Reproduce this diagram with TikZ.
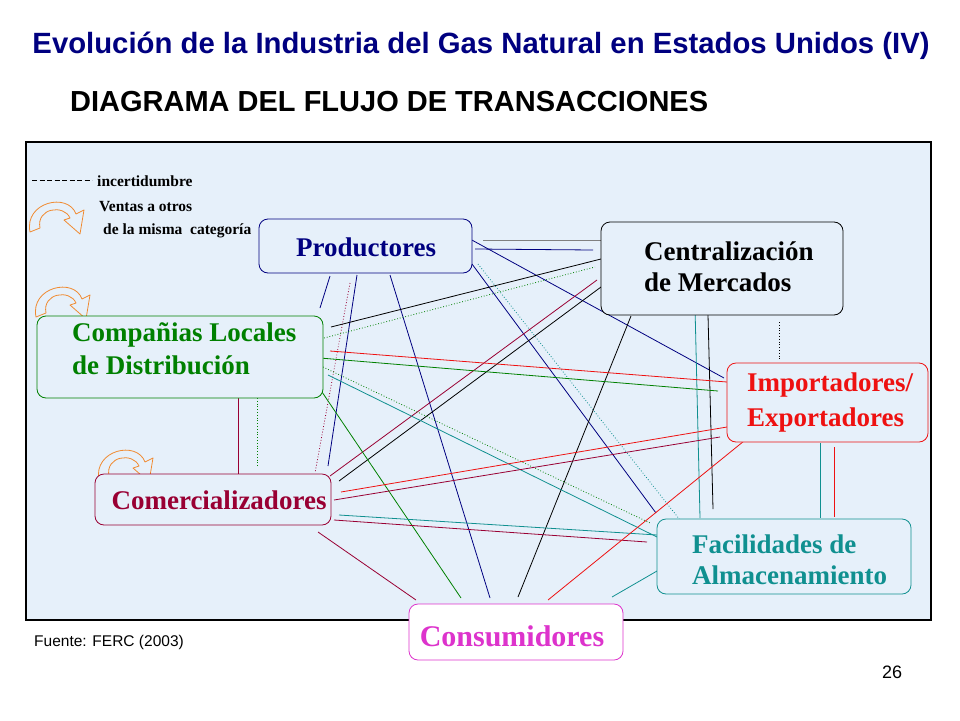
\documentclass[tikz,border=0pt]{standalone}
\usepackage{fontspec}
\setmainfont{Liberation Serif}
\newfontfamily\hsans{Liberation Sans}
\definecolor{navy}{HTML}{000080}
\definecolor{dgreen}{HTML}{008000}
\definecolor{rred}{HTML}{EE1111}
\definecolor{dred}{HTML}{990033}
\definecolor{teal2}{HTML}{109090}
\definecolor{magen}{HTML}{DD33CC}
\definecolor{bg}{HTML}{E6F0FA}
\definecolor{orng}{HTML}{F08A30}
\tikzset{box/.style={rounded corners=9pt,fill=bg,line width=0.8pt},
 lbl/.style={align=left,inner sep=0pt},
 ln/.style={line width=0.8pt},
 dln/.style={line width=0.8pt,dotted}}
\newcommand\curlarrow[2]{%
 \begin{scope}[shift={(#1,#2)}]
 \draw[orng,line width=0.8pt,fill=bg,line join=round] (2,34) .. controls (-4,4) and (40,-6) .. (48,16) -- (56,12) -- (52,36) -- (36,22) -- (42,20) .. controls (36,6) and (8,10) .. (12,30) -- cycle;
 \end{scope}}
\begin{document}
\begin{tikzpicture}[x=1pt,y=-1pt]
\useasboundingbox (0,0) rectangle (960,720);
\fill[white] (0,0) rectangle (960,720);
\node[font=\hsans\bfseries\fontsize{29.3}{32}\selectfont,text=navy] (title) at (481,46) {Evolución de la Industria del Gas Natural en Estados Unidos (IV)};
\node[font=\hsans\bfseries\fontsize{29}{32}\selectfont,anchor=west,inner sep=0pt] (sub) at (70,102) {DIAGRAMA DEL FLUJO DE TRANSACCIONES};
\draw[line width=1.6pt,fill=bg] (26,142) rectangle (931,620);
% legend
\draw[line width=0.6pt,dash pattern=on 5pt off 2.5pt] (32,180) -- (92,180);
\node[font=\bfseries\fontsize{15.5}{18}\selectfont,anchor=west,inner sep=0pt] (l1) at (97,181) {incertidumbre};
\node[font=\bfseries\fontsize{15.5}{18}\selectfont,anchor=west,inner sep=0pt] (l2) at (99,207) {Ventas a otros};
\node[font=\bfseries\fontsize{15.5}{18}\selectfont,anchor=west,inner sep=0pt] (l3) at (103,231) {de la misma\ \ categoría};
\curlarrow{28}{198}
\curlarrow{34}{283}
\curlarrow{97}{446}
% lines
\draw[ln,gray] (483,240) -- (601,240);
\draw[ln,navy] (475,249) -- (593,250);
\draw[ln,navy] (470,239) -- (724,378);
\draw[dln,teal2] (478,264) -- (680,520);
\draw[ln,navy] (472,264) -- (656,513);
\draw[ln,navy] (390,275) -- (490,598);
\draw[ln,navy] (330,276) -- (320,308);
\draw[ln,navy] (357,275) -- (328,466);
\draw[dln,dred] (350,283) -- (315,473);
\draw[ln,black] (331,327) -- (601,259);
\draw[dln,dgreen] (324,338) -- (595,267);
\draw[ln,dred] (597,280) -- (330,476);
\draw[ln,black] (601,287) -- (339,481);
\draw[ln,black] (631,316) -- (518,597);
\draw[ln,teal2] (695,307) -- (700,518);
\draw[ln,black] (708,315) -- (713,509);
\draw[dln,black,line width=0.5pt] (779,322) -- (779,360);
\draw[ln,rred] (330,351) -- (727,382);
\draw[ln,dgreen] (320,358) -- (718,391);
\draw[dln,dgreen] (323,367) -- (650,523);
\draw[ln,teal2] (328,375) -- (657,537);
\draw[ln,dgreen] (322,392) -- (461,598);
\draw[ln,dred] (238,390) -- (238,474);
\draw[dln,dgreen,line width=0.5pt] (257,398) -- (257,466);
\draw[ln,rred] (341,492) -- (727,427);
\draw[ln,dred] (334,500) -- (720,437);
\draw[ln,teal2] (339,515) -- (657,535);
\draw[ln,dred] (334,520) -- (647,542);
\draw[ln,dred] (318,532) -- (416,600);
\draw[ln,rred] (744,441) -- (548,600);
\draw[ln,teal2] (820,443) -- (820,518);
\draw[ln,rred] (834,447) -- (834,517);
\draw[ln,teal2] (657,571) -- (612,597);
% boxes
\draw[box,draw=navy] (259,219) rectangle (472,273);
\node[lbl,text=navy,font=\bfseries\fontsize{27}{30}\selectfont] (prod) at (366,247) {Productores};
\draw[box,draw=black] (601,222) rectangle (843,315);
\node[lbl,text=black,anchor=west,font=\bfseries\fontsize{27}{31}\selectfont] (cent) at (644,267) {Centralización\\de Mercados};
\draw[box,draw=dgreen] (37,316) rectangle (323,398);
\node[lbl,text=dgreen,anchor=west,font=\bfseries\fontsize{27}{33}\selectfont] (comp) at (72,349) {Compañias Locales\\de Distribución};
\draw[box,draw=rred] (727,363) rectangle (928,442);
\node[lbl,text=rred,anchor=west,font=\bfseries\fontsize{27}{35}\selectfont] (imp) at (747,403) {Importadores/\\Exportadores};
\draw[box,draw=dred] (95,474) rectangle (331,525);
\node[lbl,text=dred,font=\bfseries\fontsize{27}{30}\selectfont] (com) at (219,500) {Comercializadores};
\draw[box,draw=teal2] (657,519) rectangle (911,594);
\node[lbl,text=teal2,anchor=west,font=\bfseries\fontsize{27}{31}\selectfont] (fac) at (692,560) {Facilidades de\\Almacenamiento};
\draw[box,draw=magen,fill=white] (409,604) rectangle (623,660);
\node[lbl,text=magen,font=\bfseries\fontsize{30}{34}\selectfont] (cons) at (512,636) {Consumidores};
\node[font=\hsans\fontsize{15.5}{18}\selectfont,anchor=west,inner sep=0pt] (src) at (34,642) {Fuente: FERC (2003)};
\node[font=\hsans\fontsize{18}{20}\selectfont] (pg) at (892,672) {26};
\end{tikzpicture}
\end{document}
